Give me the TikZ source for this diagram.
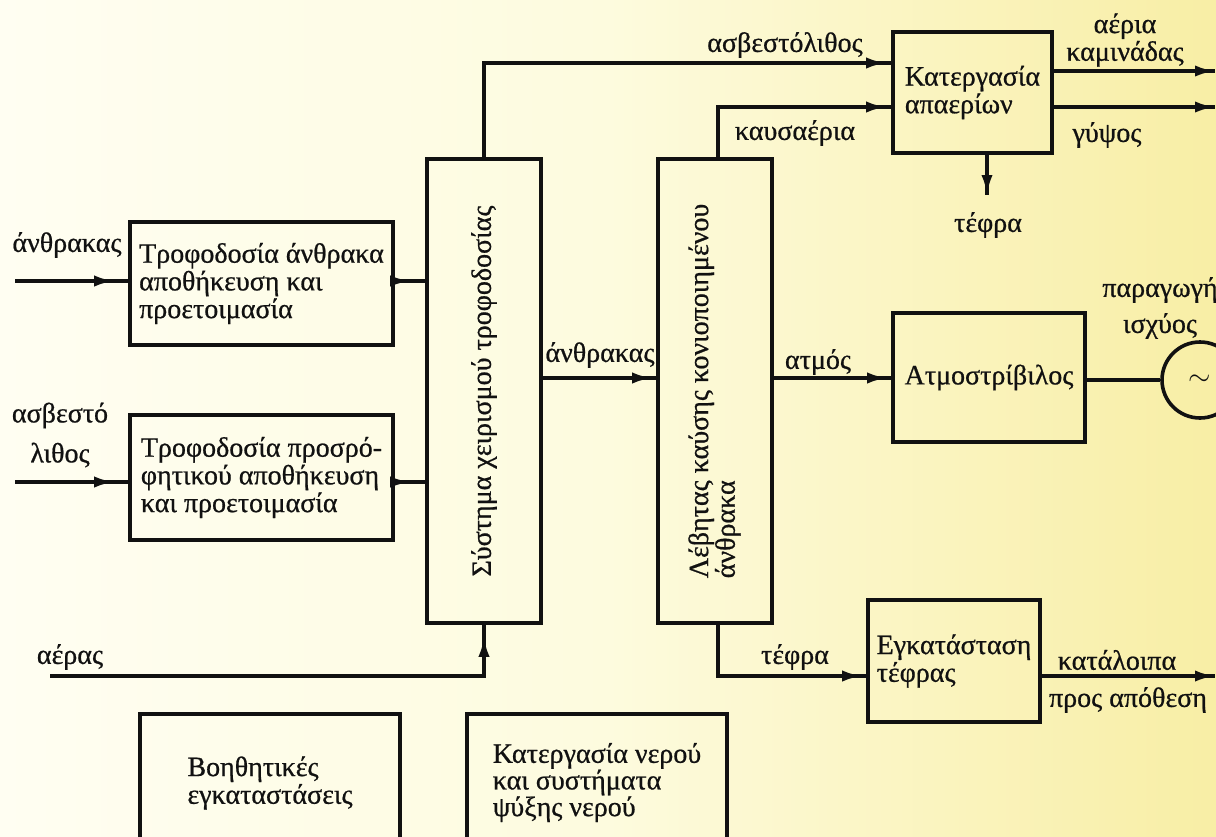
\documentclass[tikz,border=0pt]{standalone}
\usepackage{fontspec}
\setmainfont{Liberation Serif}[FakeBold=0.7]
\usetikzlibrary{arrows.meta}
\definecolor{bgL}{RGB}{255,254,242}
\definecolor{bgM}{RGB}{253,251,222}
\definecolor{bgR}{RGB}{248,238,165}
\definecolor{ink}{RGB}{17,17,17}
\begin{document}
\begin{tikzpicture}[x=0.5pt,y=-0.5pt,
  every node/.style={font=\fontsize{14}{11.5}\selectfont, text=ink, inner sep=0pt},
  box/.style={draw=ink, line width=1.8pt, rectangle, align=left},
  conn/.style={draw=ink, line width=1.7pt},
  arr/.style={conn, -{Latex[length=10pt,width=5.6pt]}, shorten >=#1, postaction={draw=ink, arrows=-, shorten >=0pt}},
  arr/.default=2pt,
  lab/.style={align=center}]
\useasboundingbox (0,0) rectangle (1216,836);
\clip (0,0) rectangle (1216,836);
\shade[left color=bgL, right color=bgR, middle color=bgM] (0,0) rectangle (1216,836);

% boxes
\node[box, minimum width=131.5pt, minimum height=61.5pt] (b1) at (261.5,283.5)
  {Τροφοδοσία άνθρακα\\αποθήκευση και\\προετοιμασία};
\node[box, minimum width=131.5pt, minimum height=62.5pt] (b2) at (261.5,477.5)
  {Τροφοδοσία προσρό-\\φητικού αποθήκευση\\και προετοιμασία};
\node[box, minimum width=57pt, minimum height=232pt] (c1) at (484,391)
  {\rotatebox{90}{Σύστημα χειρισμού τροφοδοσίας}};
\node[box, minimum width=57pt, minimum height=232pt] (c2) at (715,391)
  {\rotatebox{90}{\begin{tabular}{@{}l@{}}Λέβητας καύσης κονιοποιημένου\\άνθρακα\end{tabular}}};
\node[box, minimum width=79.5pt, minimum height=60.5pt] (k) at (972.5,92.5)
  {Κατεργασία\\απαερίων};
\node[box, minimum width=96pt, minimum height=64.5pt] (t) at (989,377.5)
  {Ατμοστρίβιλος};
\node[draw=ink, line width=1.8pt, circle, minimum size=38pt] (g) at (1200,380)
  {\Large$\sim$};
\node[box, minimum width=86pt, minimum height=61pt] (e) at (954,661)
  {Εγκατάσταση\\τέφρας};
\node[box, minimum width=130pt, minimum height=69pt] (h1) at (270,783)
  {Βοηθητικές\\εγκαταστάσεις};
\node[box, minimum width=130pt, minimum height=69pt] (h2) at (597,783)
  {\raisebox{5.5pt}{\begin{tabular}{@{}l@{}}Κατεργασία νερού\\και συστήματα\\ψύξης νερού\end{tabular}}};

% free ends and guide coordinates
\coordinate (in1) at (15,281);
\coordinate (in2) at (15,482);
\coordinate (air) at (50,676);
\coordinate (mid) at (0,378);
\coordinate (ya) at (0,63);
\coordinate (yk) at (0,107);
\coordinate (xk) at (718,0);
\coordinate (out1) at (1215,71);
\coordinate (out2) at (1215,107);
\coordinate (out3) at (1215,676);
\coordinate (tef) at (987,195);

% connectors
\draw[arr=7pt] (in1) -- (in1 -| b1.west);
\draw[arr=7.5pt] (b1.east |- in1) -- (c1.west |- in1);
\draw[arr=7pt] (in2) -- (in2 -| b2.west);
\draw[arr=7.5pt] (b2.east |- in2) -- (c1.west |- in2);
\draw[arr=2pt] (c1.east |- mid) -- (c2.west |- mid);
\draw[arr=2.5pt] (c1.north) |- (k.west |- ya);
\draw[arr=2.5pt] (xk |- c2.north) |- (k.west |- yk);
\draw[arr=0pt] (k.east |- out1) -- (out1);
\draw[arr=0pt] (k.east |- out2) -- (out2);
\draw[arr=0pt] (k.south -| tef) -- (tef);
\draw[arr=2pt] (c2.east |- mid) -- (t.west |- mid);
\draw[conn] (t.east |- g.west) -- (g.west);
\draw[arr=2pt] (xk |- c2.south) |- (e.west |- out3);
\draw[arr=0pt] (e.east |- out3) -- (out3);
\draw[arr=6pt] (air) -| (c1.south);

% labels
\node (l1) at (67,245) {άνθρακας};
\node[lab, font=\fontsize{14}{20}\selectfont] (l2) at (60,435) {ασβεστό\\λιθος};
\node (l3) at (70,657) {αέρας};
\node (l4) at (785,45) {ασβεστόλιθος};
\node (l5) at (795,133) {καυσαέρια};
\node[lab, font=\fontsize{14}{12}\selectfont] (l6) at (1125,40) {αέρια\\καμινάδας};
\node (l7) at (1107,135) {γύψος};
\node (l8) at (988,225) {τέφρα};
\node[lab, font=\fontsize{14}{18}\selectfont] (l9) at (1160,308) {παραγωγή\\ισχύος};
\node (l10) at (600,355) {άνθρακας};
\node (l11) at (818,362) {ατμός};
\node (l12) at (795,657) {τέφρα};
\node (l13) at (1117,660) {κατάλοιπα};
\node (l14) at (1128,700) {προς απόθεση};
\end{tikzpicture}
\end{document}
